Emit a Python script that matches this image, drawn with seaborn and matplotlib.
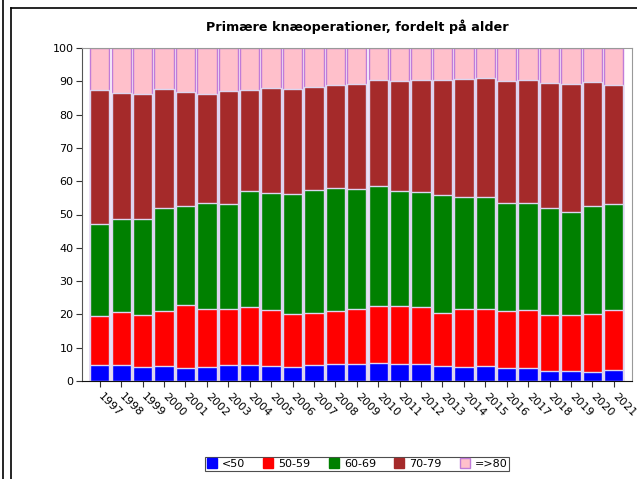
import pandas as pd
import matplotlib.pyplot as plt
import seaborn as sns
from matplotlib.lines import Line2D

# data (andel i procent pr. aldersgruppe)
years = [str(y) for y in range(1997, 2022)]
groups = ["<50", "50-59", "60-69", "70-79", "=>80"]
u50 = [4.8, 4.8, 4.2, 4.6, 3.9, 4.2, 4.9, 4.8, 4.5, 4.3, 4.7, 5.0, 5.0,
       5.3, 5.2, 5.1, 4.5, 4.3, 4.5, 3.9, 3.9, 3.1, 3.1, 2.8, 3.3]
a50_59 = [14.8, 15.9, 15.6, 16.5, 18.8, 17.5, 16.8, 17.3, 16.7, 15.8, 15.7, 16.1, 16.5,
          17.1, 17.2, 17.1, 15.9, 17.2, 17.0, 17.2, 17.4, 16.7, 16.6, 17.4, 18.0]
a60_69 = [27.6, 27.8, 28.7, 30.9, 29.8, 31.8, 31.5, 34.9, 35.3, 36.2, 36.9, 36.9, 36.1,
          36.3, 34.6, 34.5, 35.5, 33.7, 33.7, 32.4, 32.1, 32.2, 31.0, 32.5, 31.8]
a70_79 = [40.2, 38.0, 37.7, 35.8, 34.3, 32.7, 33.8, 30.4, 31.5, 31.4, 30.9, 31.0, 31.7,
          31.8, 33.1, 33.8, 34.6, 35.5, 35.8, 36.7, 37.1, 37.4, 38.5, 37.1, 35.7]
o80 = [12.6, 13.5, 13.8, 12.2, 13.2, 13.8, 13.0, 12.6, 12.0, 12.3, 11.8, 11.0, 10.7,
       9.5, 9.9, 9.5, 9.5, 9.3, 9.0, 9.8, 9.5, 10.6, 10.8, 10.2, 11.2]
colors = ["#0000ff", "#ff0000", "#008000", "#a52a2a", "#ffc0cb"]
edges = ["#dcd6f0", "#dcd6f0", "#dcd6f0", "#dcd6f0", "#c07cd8"]

df = pd.DataFrame({"year": years, "<50": u50, "50-59": a50_59, "60-69": a60_69,
                   "70-79": a70_79, "=>80": o80})
cum = df[groups].cumsum(axis=1)
cum["year"] = df["year"]

fig = plt.figure(figsize=(6.37, 4.79), dpi=100)
ax = fig.add_axes([82 / 637, 1 - 381 / 479, 550 / 637, 333 / 479])

# stablede søjler: tegn de kumulerede summer oppefra og ned
for i in range(len(groups) - 1, -1, -1):
    sns.barplot(data=cum, x="year", y=groups[i], order=years, color=colors[i],
                saturation=1, width=0.9, edgecolor=edges[i], linewidth=1.0, ax=ax)

ax.set_xlim(-0.83, 24.85)
ax.set_ylim(0, 100)
ax.set_yticks(range(0, 101, 10))
ax.set_xlabel("")
ax.set_ylabel("")
ax.tick_params(axis="both", labelsize=8, length=4, width=0.8, color="#333333")
ax.tick_params(axis="y", pad=2)
plt.setp(ax.get_xticklabels(), rotation=-45, ha="left", va="center",
         rotation_mode="anchor")
ax.tick_params(axis="x", pad=6)
for s in ["top", "right"]:
    ax.spines[s].set_color("#999999")
ax.spines["left"].set_color("#555555")
ax.spines["bottom"].set_color("#111111")

ax.set_title("Primære knæoperationer, fordelt på alder", fontsize=9.2,
             fontweight="bold", pad=12)

handles = [Line2D([], [], marker="s", linestyle="", markersize=6.5,
                  markerfacecolor=c, markeredgecolor=(e if g == "=>80" else c))
           for g, c, e in zip(groups, colors, edges)]
leg = fig.legend(handles, groups, loc="center", bbox_to_anchor=(357 / 637, 1 - 464 / 479),
                 ncol=5, fontsize=8, frameon=True, fancybox=False, edgecolor="#222222",
                 handletextpad=0.4, columnspacing=1.6, borderpad=0.15, handlelength=1.0)
leg.get_frame().set_linewidth(0.8)

# ramme fra skærmbilledet
fig.add_artist(Line2D([3 / 637, 3 / 637], [0, 1], color="black", lw=1.2))
fig.add_artist(Line2D([10.5 / 637, 10.5 / 637], [0, 1 - 8 / 479], color="black", lw=1.2))
fig.add_artist(Line2D([10.5 / 637, 1], [1 - 8 / 479, 1 - 8 / 479], color="black", lw=1.2))

fig.savefig("out.png", dpi=100)
